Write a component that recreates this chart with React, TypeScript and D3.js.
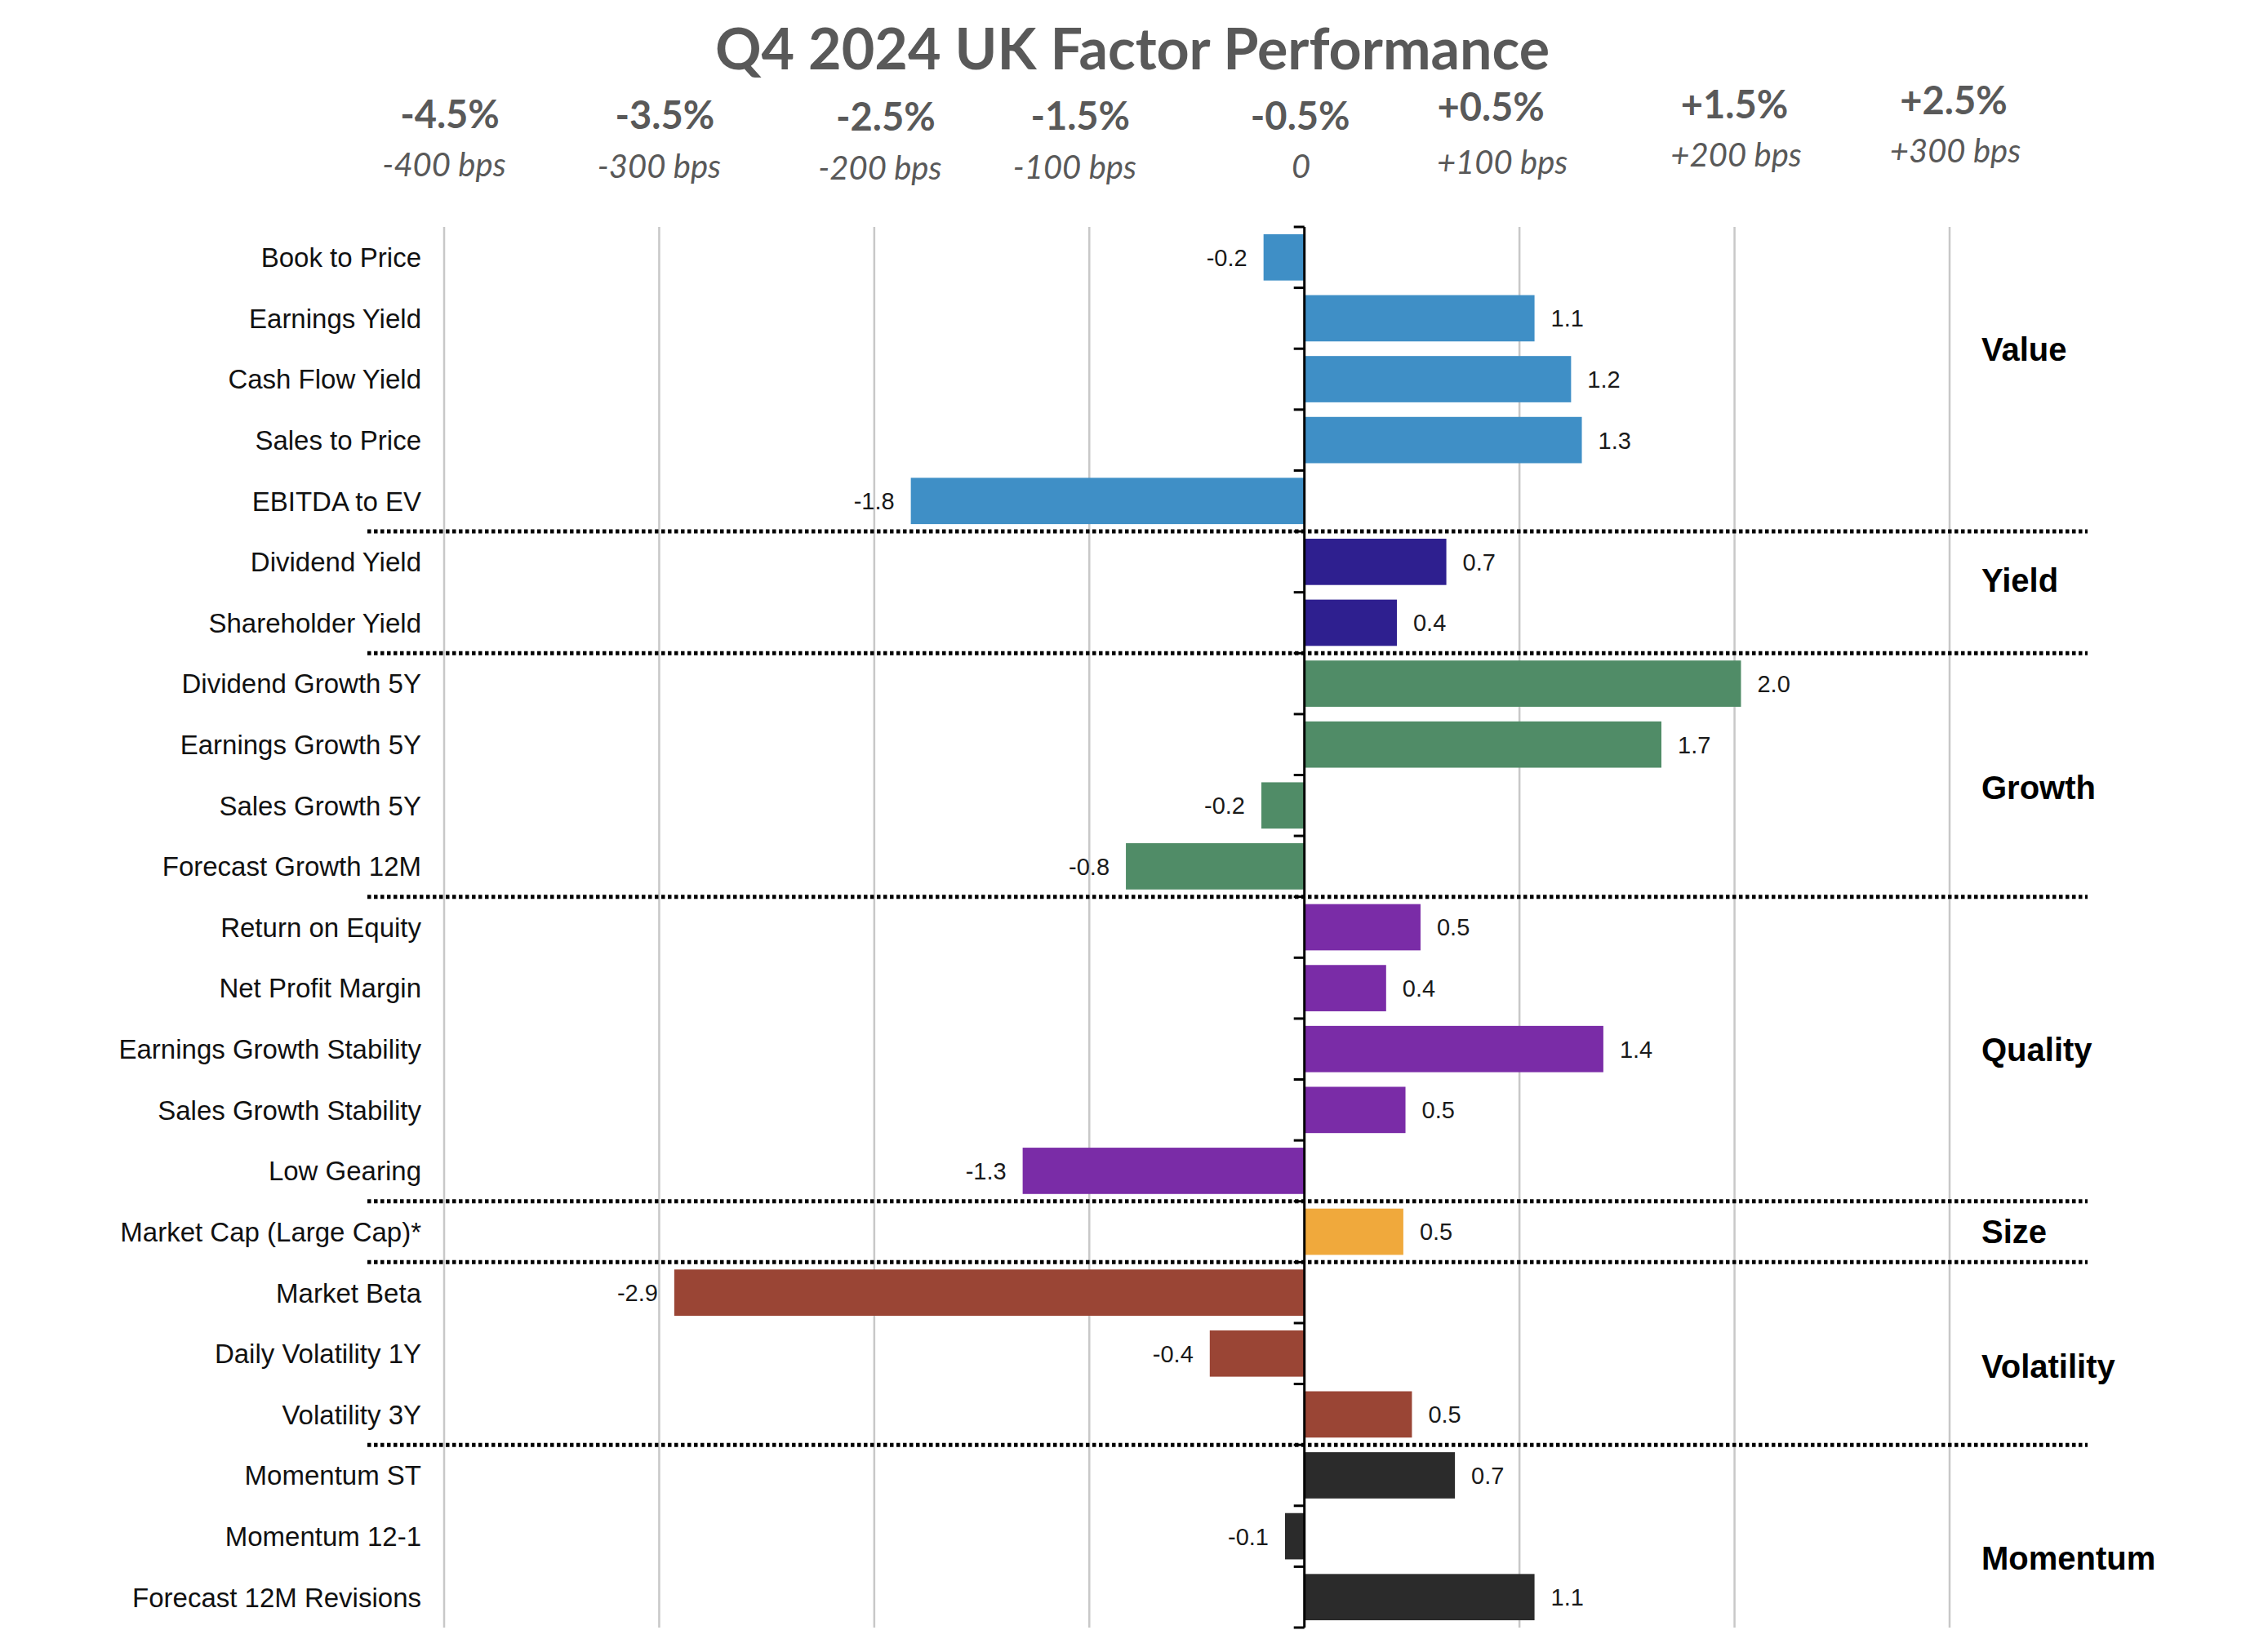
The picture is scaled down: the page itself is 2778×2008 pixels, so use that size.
import React from 'react';
import { scaleLinear, scaleBand, range } from 'd3';

// ---- data ----
const factors = [
  'Book to Price', 'Earnings Yield', 'Cash Flow Yield', 'Sales to Price', 'EBITDA to EV',
  'Dividend Yield', 'Shareholder Yield',
  'Dividend Growth 5Y', 'Earnings Growth 5Y', 'Sales Growth 5Y', 'Forecast Growth 12M',
  'Return on Equity', 'Net Profit Margin', 'Earnings Growth Stability', 'Sales Growth Stability', 'Low Gearing',
  'Market Cap (Large Cap)*',
  'Market Beta', 'Daily Volatility 1Y', 'Volatility 3Y',
  'Momentum ST', 'Momentum 12-1', 'Forecast 12M Revisions',
];
const values = [
  -0.19, 1.07, 1.24, 1.29, -1.83,
  0.66, 0.43,
  2.03, 1.66, -0.2, -0.83,
  0.54, 0.38, 1.39, 0.47, -1.31,
  0.46,
  -2.93, -0.44, 0.5,
  0.7, -0.09, 1.07,
];
const groupNames = ['Value', 'Yield', 'Growth', 'Quality', 'Size', 'Volatility', 'Momentum'];
const groupSizes = [5, 2, 4, 5, 1, 3, 3];
const groupColors = ['#3F8FC6', '#2E1F8F', '#508C67', '#7A2CA7', '#F0A93C', '#9A4535', '#2B2B2B'];

const tickValues = [-4, -3, -2, -1, 0, 1, 2, 3];
const pctLabels = ['-4.5%', '-3.5%', '-2.5%', '-1.5%', '-0.5%', '+0.5%', '+1.5%', '+2.5%'];
const bpsLabels = ['-400 bps', '-300 bps', '-200 bps', '-100 bps', '0', '+100 bps', '+200 bps', '+300 bps'];
const title = 'Q4 2024 UK Factor Performance';

// ---- layout ----
const width = 2778;
const height = 2008;
const plotTop = 278;
const plotBottom = 1994;
// where each group label sits, in row units
const groupLabelAt = [1.5, 5.3, 8.7, 13, 16, 18.2, 21.35];
// the header labels were hand placed in the original, nudge them the same way
const pctNudgeX = [7, 7, 14, -11, -5, -35, 0, 5];
const pctBaseline = [157, 158, 160, 159, 159, 148, 145, 140];
const bpsNudgeX = [0, 0, 7, -18, -4, -21, 2, 7];
const bpsBaseline = [216, 218, 220, 219, 218, 213, 204, 199];

const App: React.FC = () => {
  const x = scaleLinear().domain([-4, 3]).range([544, 2388]);
  const y = scaleBand<number>()
    .domain(range(factors.length))
    .range([plotTop, plotBottom])
    .paddingInner(0.24)
    .paddingOuter(0.12);
  const step = y.step();
  const rowCenter = (i: number) => plotTop + (i + 0.5) * step;
  const boundary = (i: number) => plotTop + i * step;

  // group index per row
  const rowGroup: number[] = [];
  groupSizes.forEach((n, g) => {
    for (let k = 0; k < n; k++) rowGroup.push(g);
  });
  // separators after each group except last
  const seps: number[] = [];
  let acc = 0;
  groupSizes.slice(0, -1).forEach(n => {
    acc += n;
    seps.push(acc);
  });

  const x0 = x(0);
  const headFont = "Lato, 'Open Sans', sans-serif";
  const bodyFont = "'Liberation Sans', Arial, sans-serif";

  return (
    <div>
      <style>{'body{margin:0;background:#fff}'}</style>
      <svg width={width} height={height} style={{ display: 'block' }}>
        <rect width={width} height={height} fill='#fff' />

        {/* title */}
        <text
          x={1387}
          y={85}
          textAnchor='middle'
          fontFamily={headFont}
          fontWeight={700}
          fontSize={70}
          fill='#595959'
        >
          {title}
        </text>

        {/* header tick labels */}
        {tickValues.map((t, i) => (
          <g key={'h' + t}>
            <text
              x={x(t) + pctNudgeX[i]}
              y={pctBaseline[i]}
              textAnchor='middle'
              fontFamily={headFont}
              fontWeight={700}
              fontSize={47}
              fill='#595959'
            >
              {pctLabels[i]}
            </text>
            <text
              x={x(t) + bpsNudgeX[i]}
              y={bpsBaseline[i]}
              textAnchor='middle'
              fontFamily={headFont}
              fontStyle='italic'
              fontSize={40}
              fill='#595959'
            >
              {bpsLabels[i]}
            </text>
          </g>
        ))}

        {/* gridlines */}
        {tickValues
          .filter(t => t !== 0)
          .map(t => (
            <line
              key={'g' + t}
              x1={x(t)}
              x2={x(t)}
              y1={plotTop}
              y2={plotBottom}
              stroke='#c8c8c8'
              strokeWidth={2.5}
            />
          ))}

        {/* bars */}
        {values.map((v, i) => (
          <rect
            key={'b' + i}
            x={Math.min(x(v), x0)}
            y={y(i)}
            width={Math.abs(x(v) - x0)}
            height={y.bandwidth()}
            fill={groupColors[rowGroup[i]]}
          />
        ))}

        {/* value labels */}
        {values.map((v, i) => (
          <text
            key={'v' + i}
            x={v >= 0 ? x(v) + 20 : x(v) - 20}
            y={rowCenter(i)}
            dy='0.36em'
            textAnchor={v >= 0 ? 'start' : 'end'}
            fontFamily={bodyFont}
            fontSize={29}
            fill='#1a1a1a'
          >
            {v.toFixed(1)}
          </text>
        ))}

        {/* row labels */}
        {factors.map((f, i) => (
          <text
            key={'f' + i}
            x={516}
            y={rowCenter(i)}
            dy='0.36em'
            textAnchor='end'
            fontFamily={bodyFont}
            fontSize={33}
            fill='#111'
          >
            {f}
          </text>
        ))}

        {/* group separators */}
        {seps.map(s => (
          <line
            key={'s' + s}
            x1={450}
            x2={2557}
            y1={boundary(s)}
            y2={boundary(s)}
            stroke='#000'
            strokeWidth={5}
            strokeDasharray='4.5 3.5'
          />
        ))}

        {/* zero axis with ticks */}
        <line x1={x0} x2={x0} y1={plotTop} y2={plotBottom} stroke='#000' strokeWidth={3} />
        {range(factors.length + 1).map(i => (
          <line
            key={'t' + i}
            x1={x0 - 13}
            x2={x0}
            y1={boundary(i)}
            y2={boundary(i)}
            stroke='#000'
            strokeWidth={3}
          />
        ))}

        {/* group labels */}
        {groupNames.map((g, i) => (
          <text
            key={'gl' + g}
            x={2427}
            y={rowCenter(groupLabelAt[i])}
            dy='0.36em'
            fontFamily={bodyFont}
            fontWeight={700}
            fontSize={40}
            fill='#000'
          >
            {g}
          </text>
        ))}
      </svg>
    </div>
  );
};

export default App;
